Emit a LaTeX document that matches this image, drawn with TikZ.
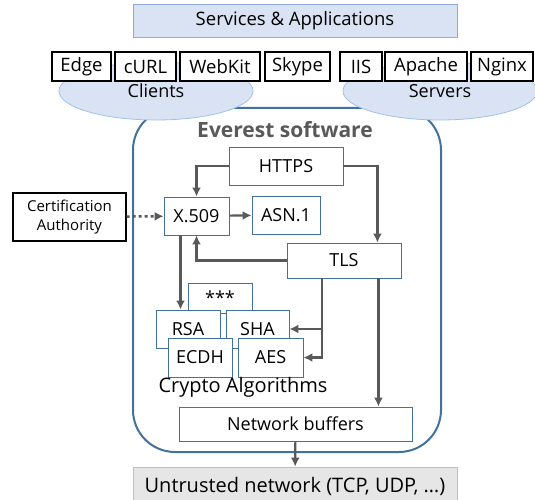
\documentclass[tikz,border=0pt]{standalone}
\usepackage{fontspec}
\setmainfont{Open Sans}
\usetikzlibrary{shapes.geometric,arrows.meta,calc}
\definecolor{evblue}{HTML}{41719C}
\definecolor{svcfill}{HTML}{DAE3F3}
\definecolor{svcline}{HTML}{8EA9DB}
\definecolor{grpline}{HTML}{9DC3E6}
\definecolor{arrgray}{HTML}{595959}
\definecolor{netfill}{HTML}{E7E6E6}
\definecolor{netline}{HTML}{BFBFBF}
\tikzset{
	>={Latex[length=9pt,width=9pt]},
	app/.style={draw=black, line width=1.2pt, fill=white, minimum height=29pt, inner sep=0pt, font=\fontsize{18.5}{21}\selectfont},
	mod/.style={draw=evblue, line width=0.9pt, fill=white, inner sep=0pt, font=\fontsize{18}{21}\selectfont},
	grp/.style={ellipse, draw=grpline, line width=0.8pt, fill=svcfill, minimum width=194pt, minimum height=58pt, inner sep=0pt, font=\fontsize{18}{21}\selectfont},
	arr/.style={->, draw=arrgray, line width=2.2pt}
}
\begin{document}
\begin{tikzpicture}[x=1pt,y=-1pt]
			\useasboundingbox (0,0) rectangle (535,500);
			\node[draw=svcline, line width=0.9pt, fill=svcfill, minimum width=324pt, minimum height=33pt, inner sep=0pt, font=\fontsize{18.5}{21}\selectfont] (svc) at (295,20.5) {\raisebox{-1.5pt}{Services \& Applications}};
			\draw[evblue, line width=2pt, rounded corners=42pt, fill=white] (133,108) rectangle (441,452);
			\node[grp] (clients) at (156,91) {\raisebox{-4pt}{Clients}};
			\node[grp] (servers) at (440,91) {\raisebox{-4pt}{Servers}};
			\node[app, minimum width=59pt] (edge) at (81.5,66.5) {Edge};
			\node[app, minimum width=61pt] (curl) at (145.5,66.5) {cURL};
			\node[app, minimum width=80pt] (webkit) at (220,66.5) {WebKit};
			\node[app, minimum width=65pt] (skype) at (297.5,66.5) {Skype};
			\node[app, minimum width=42pt] (iis) at (361,66.5) {IIS};
			\node[app, minimum width=82pt] (apache) at (426,66.5) {Apache};
			\node[app, minimum width=62pt] (nginx) at (502,66.5) {Nginx};
			\node[text=arrgray, font=\fontsize{21}{24}\selectfont\bfseries] (title) at (285,130) {Everest software};
			\node[mod, minimum width=114pt, minimum height=38pt] (https) at (286,166) {HTTPS};
			\node[mod, minimum width=65pt, minimum height=38pt] (x509) at (196.5,216) {X.509};
			\node[mod, minimum width=68pt, minimum height=38pt] (asn) at (286,215) {ASN.1};
			\node[mod, minimum width=114pt, minimum height=35pt] (tls) at (344,260.5) {TLS};
			\node[mod, minimum width=64pt, minimum height=30pt] (stars) at (220,298) {\raisebox{-3pt}{***}};
			\node[mod, minimum width=64pt, minimum height=38pt] (rsa) at (188,329) {RSA};
			\node[mod, minimum width=63pt, minimum height=38pt] (sha) at (257.5,329) {SHA};
			\node[mod, minimum width=64pt, minimum height=39pt] (ecdh) at (200,357.5) {ECDH};
			\node[mod, minimum width=65pt, minimum height=39pt] (aes) at (270.5,357.5) {AES};
			\node[font=\fontsize{20}{23}\selectfont] (crypto) at (243,387) {Crypto Algorithms};
			\node[mod, minimum width=233pt, minimum height=34pt] (nb) at (295.5,424) {Network buffers};
			\node[draw=netline, line width=0.9pt, fill=netfill, minimum width=324pt, minimum height=38pt, inner sep=0pt, font=\fontsize{20}{23}\selectfont] (net) at (295,486) {Untrusted network (TCP, UDP, \dots)};
			\node[draw=black, line width=1.2pt, minimum width=113pt, minimum height=48pt, inner sep=0pt, align=center, font=\fontsize{15}{19}\selectfont] (ca) at (69.5,217) {Certification\\Authority};
			\draw[arr] (https.west) -| (x509.north);
			\draw[arr] (https.east) -| ([xshift=-24pt]tls.north east);
			\draw[arr] (x509) -- (asn);
			\draw[arr] (tls.west) -| (x509.south);
			\draw[arr] ([xshift=-16pt]x509.south) -- ([xshift=-16pt]x509.south |- rsa.north);
			\draw[arr] ([xshift=-22pt]tls.south) |- (sha.east);
			\draw[arr] ([xshift=-22pt]tls.south) |- (aes.east);
			\draw[arr] ([xshift=-23pt]tls.south east) -- ([xshift=-23pt]tls.south east |- nb.north);
			\draw[arr] (nb) -- (net);
			\draw[arr, line width=2.5pt, dash pattern=on 3pt off 3pt] (ca) -- (x509);
		\end{tikzpicture}
\end{document}
